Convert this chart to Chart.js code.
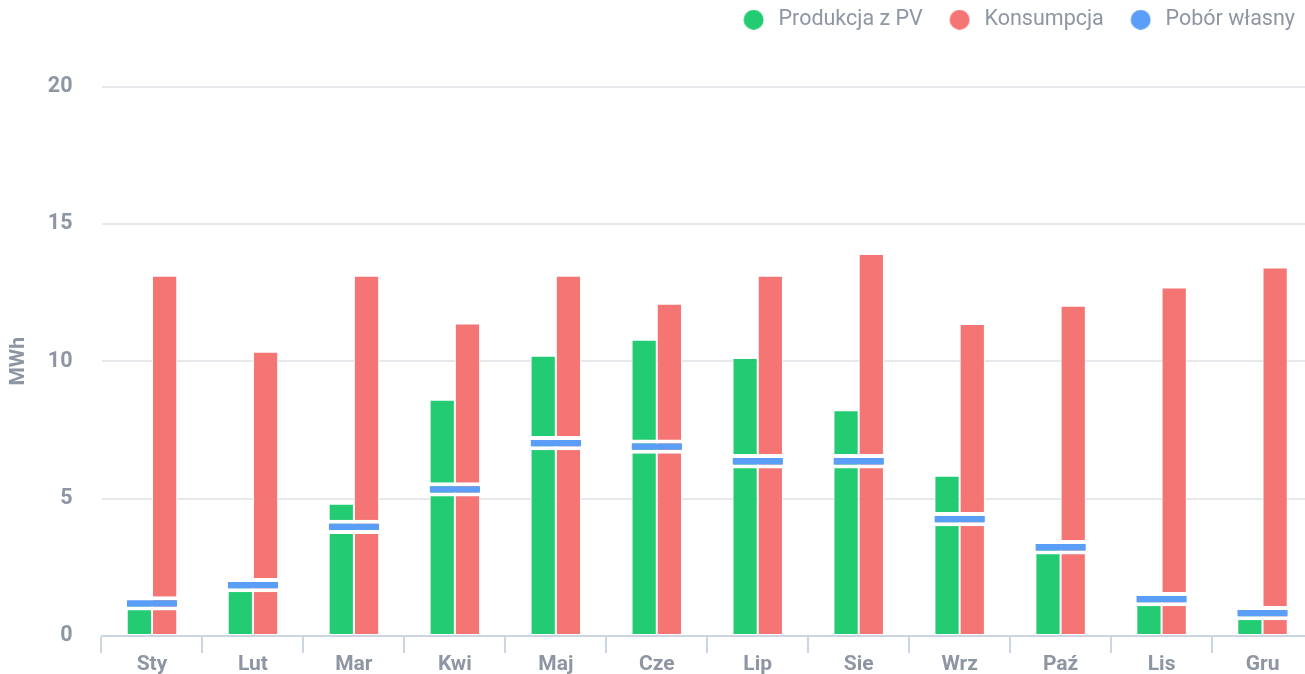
<!DOCTYPE html>
<html lang="pl">
<head>
<meta charset="utf-8">
<script src="https://cdn.jsdelivr.net/npm/chart.js@4.4.1/dist/chart.umd.min.js"></script>
<style>
    html, body { margin: 0; padding: 0; background: #fff; overflow: hidden; }
    #wrap { width: 1320px; height: 674px; position: relative; }
</style>
</head>
<body>
<div id="wrap"><canvas id="chart"></canvas></div>
<script>
const months = ['Sty', 'Lut', 'Mar', 'Kwi', 'Maj', 'Cze', 'Lip', 'Sie', 'Wrz', 'Paź', 'Lis', 'Gru'];
const produkcja = [1.2, 1.86, 4.81, 8.6, 10.2, 10.78, 10.12, 8.22, 5.83, 3.5, 1.34, 0.83];
const konsumpcja = [13.11, 10.35, 13.11, 11.37, 13.11, 12.09, 13.11, 13.9, 11.36, 12.02, 12.68, 13.41];
const pobor = [1.19, 1.85, 3.97, 5.34, 7.02, 6.89, 6.36, 6.36, 4.25, 3.23, 1.34, 0.83];
const yTicks = [0, 5, 10, 15, 20];

const GREY = '#8e95a3';
const COLORS = ['#23cc72', '#f47573', '#5b9ef7'];
const MARK = 0.26; // half thickness of the marker bar, in MWh

Chart.defaults.font.family = 'Roboto, "Noto Sans", sans-serif';
Chart.defaults.color = GREY;

// round legend dots, drawn a bit right of the image centre
function dot(color) {
    const c = document.createElement('canvas');
    c.width = 26;
    c.height = 20;
    const g = c.getContext('2d');
    g.fillStyle = color;
    g.beginPath();
    g.arc(15.4, 10, 10, 0, Math.PI * 2);
    g.fill();
    return c;
}
const dots = COLORS.map(dot);

// extra room between legend and plot
const legendGap = {
    id: 'legendGap',
    beforeInit(chart) {
        const fit = chart.legend.fit;
        chart.legend.fit = function () {
            fit.call(this);
            this.height += 46;
        };
    }
};

function barSet(label, data, color) {
    return {
        label, data,
        backgroundColor: color,
        borderColor: '#ffffff',
        borderWidth: 1,
        borderSkipped: false,
        order: 1
    };
}

new Chart(document.getElementById('chart'), {
    type: 'bar',
    data: {
        labels: months,
        datasets: [
            barSet('Produkcja z PV', produkcja, COLORS[0]),
            barSet('Konsumpcja', konsumpcja, COLORS[1]),
            {
                label: 'Pobór własny',
                data: pobor.map(v => [v - MARK, v + MARK]),
                backgroundColor: COLORS[2],
                borderColor: '#ffffff',
                borderWidth: { top: 4, bottom: 4, left: 0, right: 0 },
                borderSkipped: false,
                grouped: false,
                order: 0
            }
        ]
    },
    plugins: [legendGap],
    options: {
        responsive: true,
        maintainAspectRatio: false,
        animation: false,
        categoryPercentage: 0.5,
        barPercentage: 1,
        layout: { padding: { top: -9, right: 7, bottom: 0, left: 6 } },
        plugins: {
            legend: {
                position: 'top',
                align: 'end',
                labels: {
                    usePointStyle: true,
                    pointStyleWidth: 33,
                    boxHeight: 14,
                    padding: 18,
                    color: GREY,
                    font: { size: 21.5, weight: '400' },
                    generateLabels(chart) {
                        const items = Chart.defaults.plugins.legend.labels.generateLabels(chart);
                        items.forEach(it => {
                            it.lineWidth = 0;
                            it.strokeStyle = 'rgba(0,0,0,0)';
                            it.pointStyle = dots[it.datasetIndex];
                        });
                        return items;
                    },
                    sort: (a, b) => a.datasetIndex - b.datasetIndex
                }
            },
            tooltip: { enabled: false }
        },
        scales: {
            x: {
                afterFit(scale) { scale.height = 38; },
                grid: {
                    display: true,
                    drawOnChartArea: false,
                    drawTicks: true,
                    tickLength: 17,
                    color: '#cdd5e3',
                    lineWidth: 2
                },
                border: { display: true, color: '#cdd5e3', width: 2 },
                ticks: { color: GREY, font: { size: 21, weight: 'bold' }, padding: -1 }
            },
            y: {
                min: 0,
                max: 20,
                afterBuildTicks(scale) { scale.ticks = yTicks.map(v => ({ value: v })); },
                afterFit(scale) { scale.width = 95.5; },
                grid: {
                    color: '#e6e8ec',
                    lineWidth: 2,
                    drawTicks: true,
                    tickLength: 27,
                    tickColor: 'rgba(0,0,0,0)'
                },
                border: { display: false },
                ticks: { color: GREY, font: { size: 21.5, weight: 'bold' }, padding: 2 },
                title: {
                    display: true,
                    text: 'MWh',
                    color: GREY,
                    font: { size: 21, weight: 'bold' },
                    padding: 0
                }
            }
        }
    }
});
</script>
</body>
</html>
